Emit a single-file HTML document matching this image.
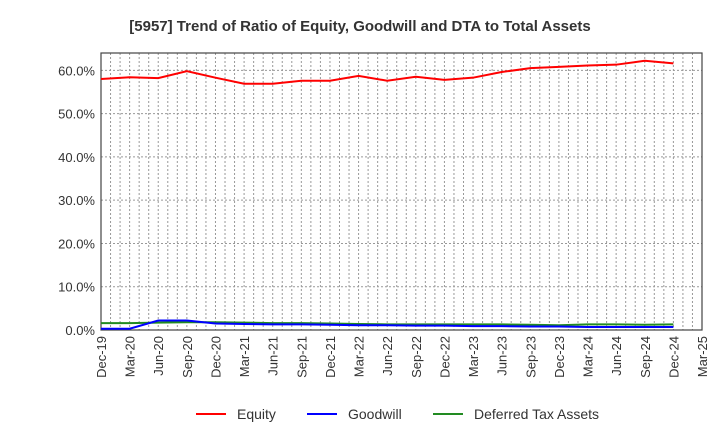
<!DOCTYPE html>
<html><head><meta charset="utf-8"><style>
body{margin:0;background:#fff;font-family:"Liberation Sans",sans-serif;}
svg text{font-family:"Liberation Sans",sans-serif;}
</style></head><body>
<svg id="chart" width="720" height="440">
<text x="360" y="31" text-anchor="middle" font-size="15" font-weight="bold" fill="#333">[5957]  Trend of Ratio of Equity, Goodwill and DTA to Total Assets</text>
<g id="grid"></g><g id="axes"></g><g id="series"></g>
<g id="legend">
<line x1="196" y1="414" x2="226" y2="414" stroke="#ff0000" stroke-width="2"/><text x="237" y="419" font-size="14" fill="#333">Equity</text>
<line x1="307" y1="414" x2="337" y2="414" stroke="#0000ff" stroke-width="2"/><text x="348" y="419" font-size="14" fill="#333">Goodwill</text>
<line x1="433" y1="414" x2="463" y2="414" stroke="#228b22" stroke-width="2"/><text x="474" y="419" font-size="14" fill="#333">Deferred Tax Assets</text>
</g>
</svg>
<script>
const categories=["Dec-19","Mar-20","Jun-20","Sep-20","Dec-20","Mar-21","Jun-21","Sep-21","Dec-21","Mar-22","Jun-22","Sep-22","Dec-22","Mar-23","Jun-23","Sep-23","Dec-23","Mar-24","Jun-24","Sep-24","Dec-24","Mar-25"];
const equity=[58.0,58.4,58.2,59.8,58.3,56.9,56.9,57.6,57.6,58.7,57.6,58.5,57.8,58.3,59.6,60.5,60.8,61.1,61.3,62.2,61.6];
const goodwill=[0.3,0.3,2.2,2.2,1.5,1.4,1.3,1.3,1.2,1.1,1.1,1.0,1.0,0.9,0.9,0.8,0.8,0.7,0.7,0.7,0.7];
const dta=[1.6,1.6,1.7,1.8,1.8,1.7,1.6,1.6,1.5,1.4,1.3,1.3,1.3,1.3,1.3,1.2,1.1,1.3,1.3,1.2,1.3];
const yTicks=[0,10,20,30,40,50,60];
const L=101,R=702,T=53,B=330,YMAX=64;
const NS="http://www.w3.org/2000/svg";
const x=i=>L+(R-L)*i/(categories.length-1);
const y=v=>B-(B-T)*v/YMAX;
function mk(tag,attrs,parent){const e=document.createElementNS(NS,tag);for(const k in attrs)e.setAttribute(k,attrs[k]);parent.appendChild(e);return e;}
const grid=document.getElementById('grid'),axes=document.getElementById('axes'),ser=document.getElementById('series');
for(let m=1;m<(categories.length-1)*3;m++){const xx=L+(R-L)*m/((categories.length-1)*3);
const g=mk('line',{x1:xx,x2:xx,y1:T,y2:B,stroke:'#999','stroke-dasharray':'2,2','stroke-width':1},grid);

}
yTicks.forEach(v=>{const g=mk('line',{x1:L,x2:R,y1:y(v),y2:y(v),stroke:'#999','stroke-dasharray':'2,2','stroke-width':1},grid);


const t=mk('text',{x:L-6,y:y(v)+5,'text-anchor':'end','font-size':13,fill:'#333'},axes);t.textContent=v.toFixed(1)+'%';

});
const fr=mk('rect',{x:L,y:T,width:R-L,height:B-T,fill:'none',stroke:'#444','stroke-width':1.2},axes);


categories.forEach((c,i)=>{const t=mk('text',{transform:`translate(${x(i)+5},${B+6}) rotate(-90)`,'text-anchor':'end','font-size':13,fill:'#333'},axes);t.textContent=c;

});
[[dta,'#228b22','dta-line'],[goodwill,'#0000ff','goodwill-line'],[equity,'#ff0000','equity-line']].forEach(([d,c,n])=>{
const p=mk('polyline',{points:d.map((v,i)=>x(i)+','+y(v)).join(' '),fill:'none',stroke:c,'stroke-width':2},ser);

});
</script>
</body></html>
